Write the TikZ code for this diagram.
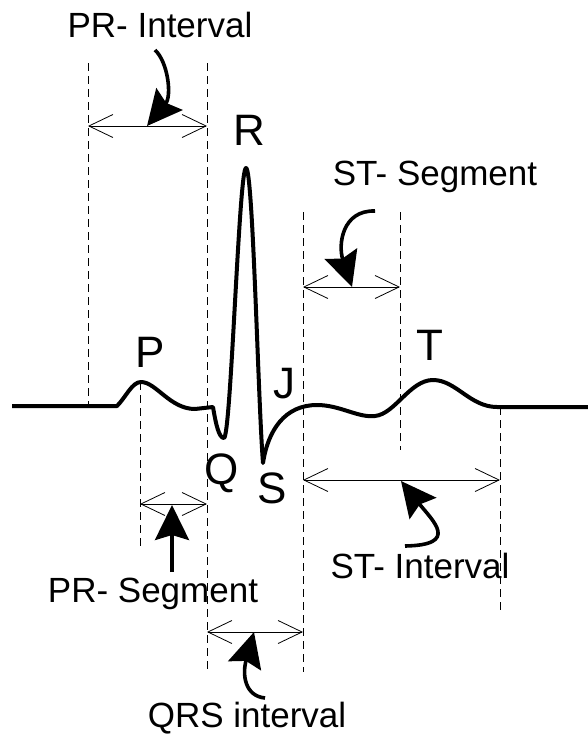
\documentclass[tikz,border=0pt]{standalone}
\usepackage{fontspec}
\setmainfont{Liberation Sans}
\usetikzlibrary{arrows.meta}
\tikzset{
	wave/.style={line width=4pt, line join=round},
	guide/.style={dash pattern=on 8pt off 5pt, line width=0.7pt},
	span/.style={{Straight Barb[length=24pt,width=23pt]}-{Straight Barb[length=24pt,width=23pt]}, line width=0.8pt},
	pointer/.style={line width=3.6pt, -{Stealth[length=35pt,width=34pt,inset=5pt]}},
	label/.style={inner sep=0pt, anchor=base, font=\fontsize{35}{40}\selectfont},
	wavename/.style={inner sep=0pt, anchor=base, font=\fontsize{44}{50}\selectfont}
}
\begin{document}
\begin{tikzpicture}[x=1pt,y=-1pt]
		\useasboundingbox (0,0) rectangle (588,734);
		% dashed guide lines
		\foreach \gx/\gtop/\gbot in {88/63/406, 207/63/672, 303/212/672, 400/212/450, 140/382/548, 500/407/613}{
			\draw[guide] (\gx,\gtop) to (\gx,\gbot);}
		% ecg trace
		\draw[wave] (12,406) -- (117,406)
			.. controls (126,397) and (132,382) .. (141,382)
			.. controls (156,382) and (170,409) .. (195,409)
			-- (213,407)
			.. controls (216,425) and (219,438) .. (224,438)
			.. controls (231,436) and (239,168) .. (246,168)
			.. controls (253,168) and (258,400) .. (263,463)
			.. controls (268,430) and (285,405) .. (317,405)
			.. controls (340,405) and (358,418) .. (375,416)
			.. controls (395,414) and (410,380) .. (433,380)
			.. controls (456,380) and (470,407) .. (497,407)
			-- (588,407);
		% wave names
		\node[wavename] (pname) at (150,367) {P};
		\node[wavename] (rname) at (249,145) {R};
		\node[wavename] (qname) at (222,484) {Q};
		\node[wavename] (sname) at (272,503) {S};
		\node[wavename] (jname) at (284,398) {J};
		\node[wavename] (tname) at (430,360) {T};
		% intervals and segments
		\coordinate (pri-l) at (88,126);   \coordinate (pri-r) at (207,126);
		\coordinate (sts-l) at (303,287);  \coordinate (sts-r) at (400,287);
		\coordinate (prs-l) at (140,504);  \coordinate (prs-r) at (207,504);
		\coordinate (qrs-l) at (207,632);  \coordinate (qrs-r) at (303,632);
		\coordinate (sti-l) at (303,480);  \coordinate (sti-r) at (500,480);
		\foreach \s in {pri,sts,prs,qrs,sti}{
			\draw[span] (\s-l) to (\s-r);}
		% labels
		\node[label] (prinode) at (160,37) {PR- Interval};
		\node[label] (stsnode) at (435,185) {ST- Segment};
		\node[label] (prsnode) at (153,602) {PR- Segment};
		\node[label] (qrsnode) at (247,727) {QRS interval};
		\node[label] (stinode) at (420,578) {ST- Interval};
		% pointers
		\coordinate (pri-tail) at (155,50);  \coordinate (pri-tip) at (147,126);
		\coordinate (sts-tail) at (375,211); \coordinate (sts-tip) at (352,287);
		\coordinate (prs-tail) at (172,572); \coordinate (prs-tip) at (172,505);
		\coordinate (qrs-tail) at (265,698); \coordinate (qrs-tip) at (254,632);
		\coordinate (sti-tail) at (405,546); \coordinate (sti-tip) at (401,481);
		\draw[pointer] (pri-tail) .. controls (168,62) and (172,96) .. (pri-tip);
		\draw[pointer] (sts-tail) .. controls (342,210) and (338,245) .. (sts-tip);
		\draw[pointer] (prs-tail) -- (prs-tip);
		\draw[pointer] (qrs-tail) .. controls (245,696) and (242,675) .. (qrs-tip);
		\draw[pointer] (sti-tail) .. controls (460,545) and (433,521) .. (sti-tip);
	\end{tikzpicture}
\end{document}
